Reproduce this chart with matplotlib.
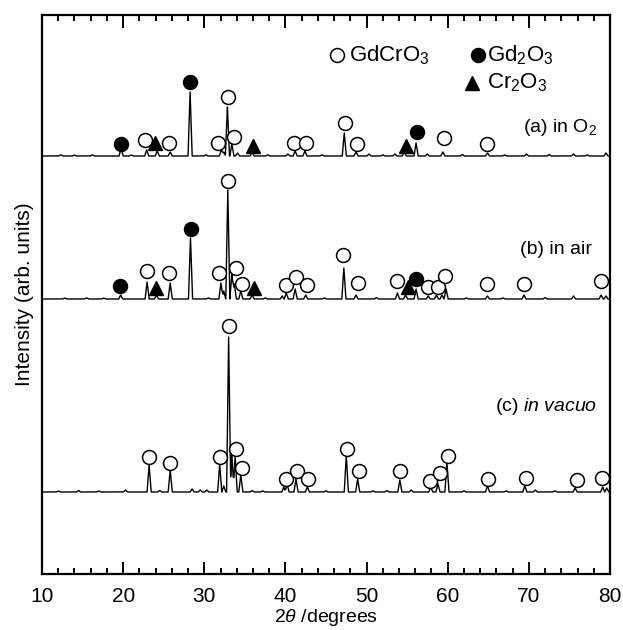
import matplotlib
matplotlib.use("Agg")
import matplotlib.pyplot as plt
import numpy as np

plt.rcParams["font.family"] = ["Liberation Sans", "DejaVu Sans"]
plt.rcParams["mathtext.fontset"] = "custom"
plt.rcParams["mathtext.rm"] = "Liberation Sans"
plt.rcParams["mathtext.it"] = "Liberation Sans:italic"

# baseline offsets of the three stacked patterns (arb. units)
offset_a = 418
offset_b = 275
offset_c = 82

# peak positions (2theta, deg) and heights above baseline
peaks_a_x = [12.3, 14.0, 16.2, 19.75, 21.0, 22.9, 24.2, 25.8, 28.25, 30.2, 32.1,
             32.4, 32.85, 33.4, 34.1, 35.9, 37.8, 40.3, 41.2, 42.4, 44.5, 47.25,
             48.7, 50.3, 52.0, 53.5, 54.65, 56.1, 57.5, 59.4, 61.8, 64.9, 67.0,
             69.7, 72.5, 75.5, 77.2, 79.5]
peaks_a_h = [1.2, 1.0, 1.2, 8, 1.0, 6, 5, 4, 64, 1.2, 6,
             4, 49, 12, 3, 4, 1.2, 2, 5, 5, 1.2, 23,
             4, 2, 1.2, 2, 4, 13, 2, 4, 1.5, 3, 1.2,
             2, 1.5, 2, 1.2, 3]

peaks_b_x = [12.8, 15.5, 17.6, 19.7, 22.95, 24.1, 25.8, 28.3, 30.5, 32.05, 32.4,
             32.9, 33.4, 33.7, 34.5, 35.9, 37.5, 39.6, 40.1, 41.2, 42.5, 44.8,
             47.2, 48.7, 51.2, 53.8, 54.8, 56.1, 57.6, 58.6, 59.3, 59.8, 62.3,
             64.9, 66.8, 69.4, 72.0, 75.5, 78.9, 79.5]
peaks_b_h = [1.0, 1.2, 1.0, 4, 17, 4, 16, 61, 1.2, 16, 8,
             109, 25, 15, 8, 4, 1.2, 3, 6, 10, 4, 1.2,
             31, 4, 1.5, 6, 4, 10, 3, 4, 4, 10, 1.2,
             3, 1.2, 4, 1.5, 3, 4, 3]

peaks_c_x = [12.0, 14.5, 17.0, 20.3, 23.2, 24.5, 25.8, 28.5, 29.5, 30.3, 31.9,
             32.4, 33.0, 33.4, 33.8, 34.5, 35.9, 37.2, 39.8, 40.2, 41.3, 42.7,
             45.0, 47.5, 48.9, 50.8, 52.5, 54.1, 55.5, 57.9, 58.8, 59.9, 62.0,
             64.9, 67.2, 69.5, 70.8, 73.2, 75.7, 79.1, 79.6]
peaks_c_h = [1.0, 1.5, 1.0, 2, 27, 1.5, 22, 3, 2, 2, 28,
             6, 155, 38, 36, 17, 1.5, 1.2, 5, 8, 13, 5,
             1.2, 37, 13, 1.2, 1.5, 12, 2, 5, 8, 30, 1.2,
             6, 1.2, 6, 2, 1.2, 4, 5, 4]

# phase markers: position, height above baseline, phase
# phases: "p" = GdCrO3 (open circle), "g" = Gd2O3 (filled circle), "c" = Cr2O3 (triangle)
marks_a_x = [19.7, 22.7, 23.9, 25.7, 28.2, 31.7, 32.9, 33.7, 36.0, 41.1, 42.5,
             47.4, 48.8, 54.9, 56.2, 59.5, 64.9]
marks_a_h = [12, 16, 13, 13, 74, 13, 59, 19, 10, 13, 13,
             33, 12, 10, 24, 18, 12]
marks_a_p = ["g", "p", "c", "p", "g", "p", "p", "p", "c", "p", "p",
             "p", "p", "c", "g", "p", "p"]

marks_b_x = [19.6, 22.97, 24.06, 25.7, 28.35, 31.85, 32.9, 33.9, 34.6, 36.1, 40.1,
             41.3, 42.7, 47.1, 48.9, 53.8, 55.1, 56.1, 57.6, 58.8, 59.7, 64.9,
             69.45, 78.9]
marks_b_h = [13, 28, 11, 26, 70, 26, 118, 31, 15, 11, 14,
             22, 14, 44, 16, 18, 12, 20, 12, 12, 23, 15,
             15, 18]
marks_b_p = ["g", "p", "c", "p", "g", "p", "p", "p", "p", "c", "p",
             "p", "p", "p", "p", "p", "c", "g", "p", "p", "p", "p",
             "p", "p"]

marks_c_x = [23.2, 25.8, 31.95, 33.0, 33.9, 34.6, 40.1, 41.4, 42.8, 47.6, 49.1,
             54.15, 57.85, 59.0, 60.07, 65.0, 69.6, 75.9, 79.07]
marks_c_h = [35, 29, 35, 166, 43, 24, 13, 21, 13, 43, 21,
             21, 11, 19, 36, 13, 14, 12, 14]
marks_c_p = ["p"] * len(marks_c_x)

MARKER_STYLE = {
    "p": dict(marker="o", markersize=10, markerfacecolor="white",
              markeredgecolor="black", markeredgewidth=1.1),
    "g": dict(marker="o", markersize=10, markerfacecolor="black",
              markeredgecolor="black", markeredgewidth=1.1),
    "c": dict(marker="^", markersize=9.5, markerfacecolor="black",
              markeredgecolor="black", markeredgewidth=1.0),
}


def _profile(xgrid, pos, heights, width=0.25):
    """Sum of narrow triangular peaks at the read-off positions."""
    y = np.zeros_like(xgrid)
    for p, h in zip(pos, heights):
        y += h * np.clip(1.0 - np.abs(xgrid - p) / width, 0.0, None)
    return y


def _draw_pattern(ax, base, px, ph, mx, mh, mp):
    xgrid = np.arange(10.0, 80.001, 0.01)
    ax.plot(xgrid, base + _profile(xgrid, px, ph), color="black", lw=1.0, zorder=2)
    for x, h, p in zip(mx, mh, mp):
        ax.plot([x], [base + h], linestyle="none", zorder=3, **MARKER_STYLE[p])


fig = plt.figure(figsize=(6.23, 6.30), dpi=100)
ax = fig.add_axes([42 / 623, 1 - 574 / 630, 568 / 623, 559 / 630])

_draw_pattern(ax, offset_a, peaks_a_x, peaks_a_h, marks_a_x, marks_a_h, marks_a_p)
_draw_pattern(ax, offset_b, peaks_b_x, peaks_b_h, marks_b_x, marks_b_h, marks_b_p)
_draw_pattern(ax, offset_c, peaks_c_x, peaks_c_h, marks_c_x, marks_c_h, marks_c_p)

ax.set_xlim(10, 80)
ax.set_ylim(0, 559)
ax.set_xticks(np.arange(10, 81, 10))
ax.set_xticks(np.arange(10, 81, 2), minor=True)
ax.set_yticks([])
ax.tick_params(axis="x", which="both", direction="in", top=True, bottom=True,
               labelsize=15, pad=9, width=1.4)
ax.tick_params(axis="x", which="major", length=9)
ax.tick_params(axis="x", which="minor", length=4)
for spine in ax.spines.values():
    spine.set_linewidth(1.6)

ax.set_xlabel(r"2$\theta$ /degrees", fontsize=14, labelpad=1)
ax.set_ylabel("Intensity (arb. units)", fontsize=15, labelpad=6)

# legend drawn by hand (two rows, Cr2O3 under Gd2O3)
tr = ax.transAxes
ax.plot([0.520], [0.928], transform=tr, linestyle="none", **MARKER_STYLE["p"])
ax.text(0.540, 0.928, r"GdCrO$_3$", transform=tr, fontsize=16, va="center")
ax.plot([0.767], [0.928], transform=tr, linestyle="none", **MARKER_STYLE["g"])
ax.text(0.784, 0.928, r"Gd$_2$O$_3$", transform=tr, fontsize=16, va="center")
ax.plot([0.757], [0.878], transform=tr, linestyle="none", **MARKER_STYLE["c"])
ax.text(0.784, 0.878, r"Cr$_2$O$_3$", transform=tr, fontsize=16, va="center")

ax.text(0.977, 0.798, r"(a) in O$_2$", transform=tr, fontsize=14,
        ha="right", va="center")
ax.text(0.968, 0.580, "(b) in air", transform=tr, fontsize=14,
        ha="right", va="center")
ax.text(0.977, 0.299, r"(c) $\mathit{in\ vacuo}$", transform=tr, fontsize=14,
        ha="right", va="center")

fig.savefig("out.png", dpi=100, facecolor="white")
